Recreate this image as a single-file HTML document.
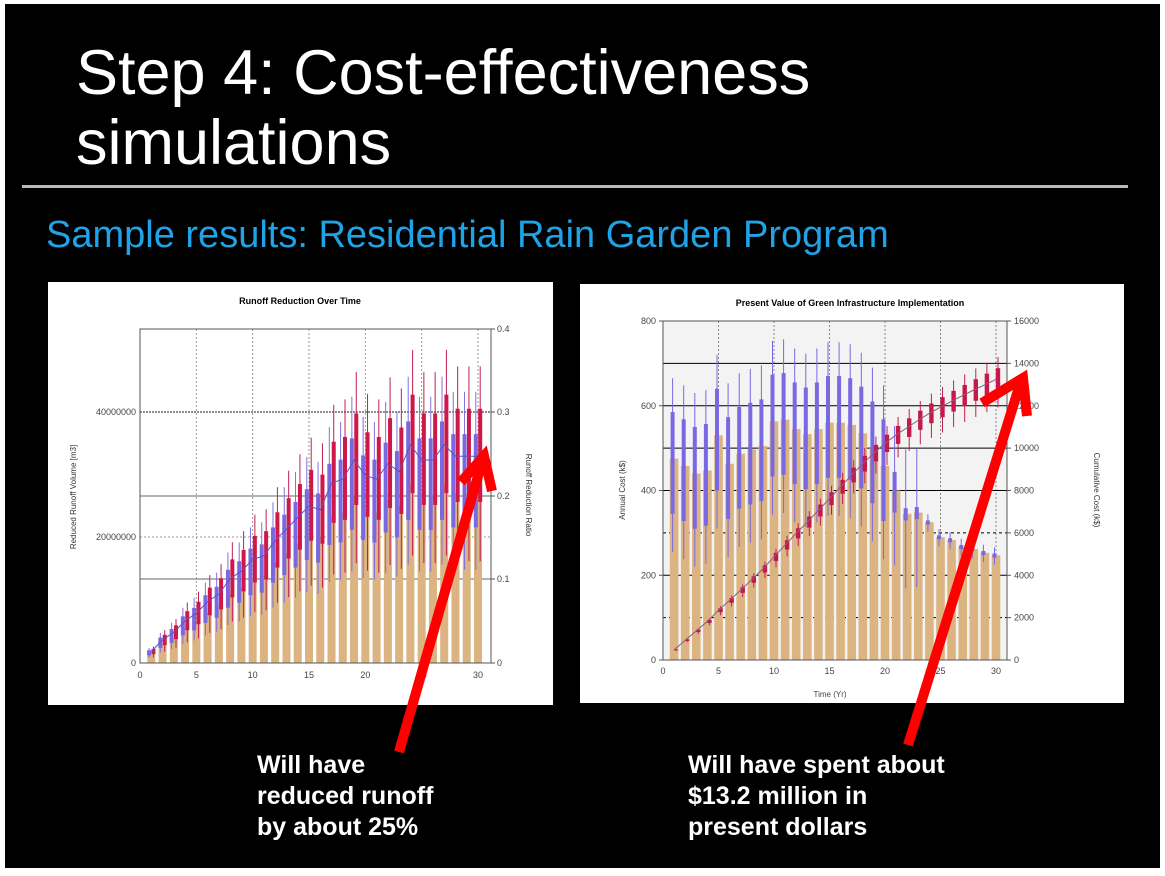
<!DOCTYPE html>
<html><head><meta charset="utf-8"><style>
html,body{margin:0;padding:0;background:#fff;}
body{width:1165px;height:876px;position:relative;overflow:hidden;font-family:"Liberation Sans",sans-serif;}
#bg{position:absolute;left:5px;top:4px;width:1155px;height:864px;background:#000;}
.t{position:absolute;color:#fff;white-space:nowrap;}
</style></head><body>
<div id="bg"></div>
<div class="t" style="left:76px;top:38px;font-size:63px;line-height:70px;">Step 4: Cost-effectiveness<br>simulations</div>
<div style="position:absolute;left:22px;top:185px;width:1106px;height:3px;background:#bbb;"></div>
<div class="t" style="left:46px;top:214px;font-size:38px;color:#1fa3e6;">Sample results: Residential Rain Garden Program</div>
<div class="t" style="left:257px;top:750px;font-size:25px;font-weight:bold;line-height:31px;">Will have<br>reduced runoff<br>by about 25%</div>
<div class="t" style="left:688px;top:750px;font-size:25px;font-weight:bold;line-height:31px;">Will have spent about<br>$13.2 million in<br>present dollars</div>
<svg id="s" width="1165" height="876" style="position:absolute;left:0;top:0" font-family="Liberation Sans, sans-serif"></svg>
<script>
var o='';
function R(x,y,w,h,f,e){o+='<rect x="'+x+'" y="'+y+'" width="'+w+'" height="'+h+'" fill="'+f+'" '+(e||'')+'/>';}
function L(a,b,c,d,s,w,e){o+='<line x1="'+a+'" y1="'+b+'" x2="'+c+'" y2="'+d+'" stroke="'+s+'" stroke-width="'+(w||1)+'" '+(e||'')+'/>';}
function T(x,y,t,sz,a,e){o+='<text x="'+x+'" y="'+y+'" font-size="'+sz+'" text-anchor="'+(a||'middle')+'" '+(e||'')+'>'+t+'</text>';}
// LEFT chart
R(48,282,505,423,'#fff');
var X0=140,U=(478-140)/30,Y0=663,YT=329,H=Y0-YT;
function ly(v){return Y0-v/53.2e6*H;}
T(300,304,'Runoff Reduction Over Time',9,'middle','font-weight="bold"');
[5,10,15,20,25,30].forEach(function(k){L(X0+k*U,YT,X0+k*U,Y0,'#999',1,'stroke-dasharray="2,2"');});
L(X0,579,491,579,'#666');L(X0,496,491,496,'#666');L(X0,537,491,537,'#999',1,'stroke-dasharray="2,2"');L(X0,412,491,412,'#666',1.5,'stroke-dasharray="2,1"');
var lb=[1.5,3,4,5.5,6.5,8,9,11,12,13.5,14,16,17.5,19,20.5,20,23.5,24,26.5,24.5,24,26,25,28.5,26.5,26.5,28.5,27,27,27];
var pts=[];
lb.forEach(function(v,i){var t=i+1,cx=X0+t*U,val=v*1e6;
 R(cx-4,ly(val),8,Y0-ly(val),'#dcb481');
 var bx=cx-2.2,rx=cx+2.2;
 L(bx,ly(val*0.55),bx,ly(val*1.6),'#8070e0',1);R(bx-2,ly(val*1.35),4,ly(val*0.8)-ly(val*1.35),'#7a68e0');
 L(rx,ly(val*0.6),rx,ly(val*1.75),'#c02050',1);R(rx-2,ly(val*1.5),4,ly(val*0.95)-ly(val*1.5),'#d01848');
 pts.push(cx+','+ly(val*1.22));});
o+='<polyline points="'+pts.join(' ')+'" fill="none" stroke="#6050c0" stroke-width="1"/>';
R(X0,YT,491-X0,H,'none','stroke="#555"');
[0,5,10,15,20,25,30].forEach(function(k){T(X0+k*U,678,k,9,'middle','fill="#444"');});
T(136,666,'0',9,'end','fill="#444"');T(136,540,'20000000',9,'end','fill="#444"');T(136,415,'40000000',9,'end','fill="#444"');
[[0,663],[0.1,579],[0.2,496],[0.3,412],[0.4,329]].forEach(function(a){L(491,a[1],495,a[1],'#555');T(497,a[1]+3,a[0],9,'start','fill="#444"');});
T(0,0,'Reduced Runoff Volume [m3]',8,'middle','transform="translate(76,497) rotate(-90)" fill="#333"');
T(0,0,'Runoff Reduction Ratio',8,'middle','transform="translate(526,495) rotate(90)" fill="#333"');
// RIGHT chart
R(580,284,544,419,'#fff');
var A0=663,V=(996-663)/30,B0=660,BT=321,BH=B0-BT;
function ry(v){return B0-v/800*BH;}function cy(v){return B0-v/16000*BH;}
R(A0,BT,1007-A0,BH,'#f3f3f3');
T(850,306,'Present Value of Green Infrastructure Implementation',9,'middle','font-weight="bold"');
[5,10,15,20,25,30].forEach(function(k){L(A0+k*V,BT,A0+k*V,B0,'#888',1,'stroke-dasharray="2,2"');});
[100,200,300,400,500,600,700].forEach(function(v){L(A0,ry(v),1007,ry(v),'#000',1,(v%200==100&&v<400)?'stroke-dasharray="3,3"':'');});
var rb=[475,458,440,447,530,463,487,497,505,563,567,545,533,545,560,560,555,535,500,458,400,345,348,325,290,283,267,262,253,247];
var cum=0,cp=[];
rb.forEach(function(v,i){var t=i+1,cx=A0+t*V;
 R(cx-4.3,ry(v),8.6,B0-ry(v),'#dcb481');
 var bx=cx-1.5,s=i<20?1:(i==20?0.4:(i<23?0.12:0.04)),wh=i<20?1:(i<23?0.8:0.1);
 L(bx,ry(v-220*wh),bx,ry(v+190*wh),'#7a68e0',1);R(bx-2,ry(v+110*s),4,ry(v-130*s)-ry(v+110*s),'#7a68e0');
 cum+=v;var rx=cx+2;
 L(rx,cy(cum*0.9),rx,cy(cum*1.08),'#c02050',1);R(rx-2.2,cy(cum*1.04),4.4,cy(cum*0.96)-cy(cum*1.04),'#c8184a');
 cp.push(cx+','+cy(cum));});
o+='<polyline points="'+cp.join(' ')+'" fill="none" stroke="#806080" stroke-width="1"/>';
R(A0,BT,1007-A0,BH,'none','stroke="#555"');
[0,5,10,15,20,25,30].forEach(function(k){T(A0+k*V,674,k,9,'middle','fill="#444"');});
[0,200,400,600,800].forEach(function(v){L(659,ry(v),663,ry(v),'#555');T(656,ry(v)+3,v,9,'end','fill="#444"');});
[0,2000,4000,6000,8000,10000,12000,14000,16000].forEach(function(v){L(1007,cy(v),1011,cy(v),'#555');T(1014,cy(v)+3,v,9,'start','fill="#444"');});
T(830,697,'Time (Yr)',8,'middle','fill="#444"');
T(0,0,'Annual Cost (k$)',8,'middle','transform="translate(625,490) rotate(-90)" fill="#333"');
T(0,0,'Cumulative Cost (k$)',8,'middle','transform="translate(1094,490) rotate(90)" fill="#333"');
// arrows
var ar='stroke="#ff0000" stroke-width="10" fill="none" stroke-linecap="butt" stroke-linejoin="miter"';
o+='<line x1="399" y1="752" x2="482" y2="462" '+ar+'/>';
o+='<polyline points="461,482 484,456 492,491" '+ar+'/>';
o+='<line x1="908" y1="745" x2="1020" y2="384" '+ar+'/>';
o+='<polyline points="982,403 1023,378 1027,416" '+ar+'/>';
document.getElementById('s').innerHTML=o;
</script>
</body></html>
